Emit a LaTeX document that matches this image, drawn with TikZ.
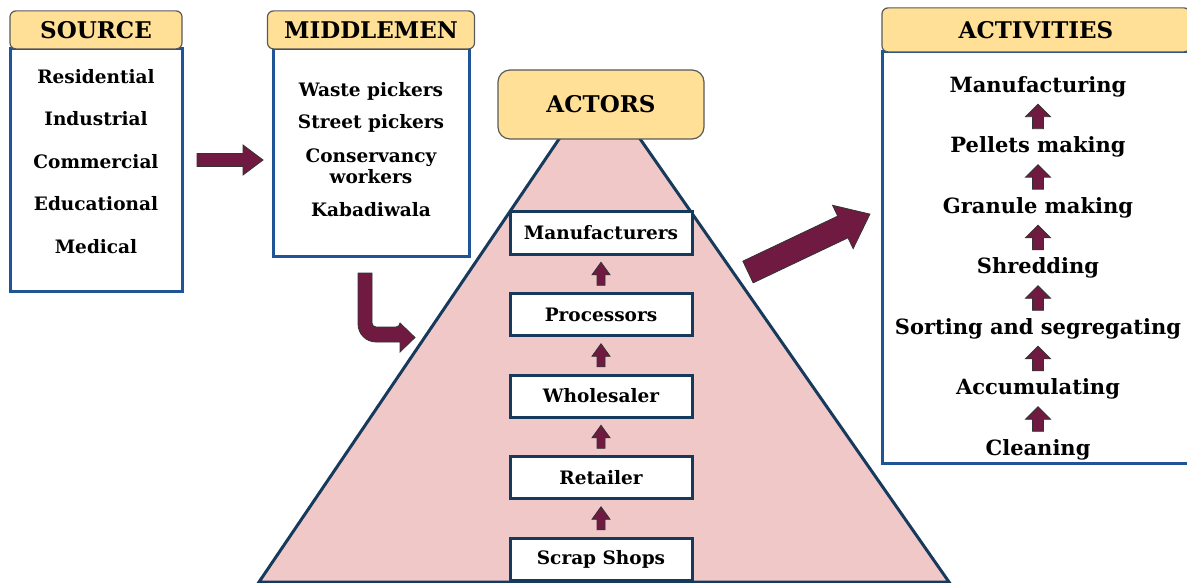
\documentclass[tikz,border=0pt]{standalone}
\usepackage{fontspec}
\setmainfont{DejaVu Serif}
\usetikzlibrary{positioning,calc}
\definecolor{headgold}{RGB}{255,224,150}
\definecolor{boxblue}{RGB}{31,85,150}
\definecolor{navy}{RGB}{22,58,92}
\definecolor{pyrpink}{RGB}{240,200,200}
\definecolor{wine}{RGB}{112,26,66}
\begin{document}
\begin{tikzpicture}[
  x=1pt, y=1pt,
  head/.style={draw=black!65, line width=1.2pt, fill=headgold, rounded corners=6pt,
    inner sep=0pt, font=\fontsize{23}{26}\selectfont\bfseries},
  listbox/.style={draw=boxblue, line width=3pt, fill=white, inner sep=0pt},
  item/.style={align=center, inner sep=1pt, font=\fontsize{18.5}{21}\selectfont\bfseries},
  stepitem/.style={inner sep=1pt, font=\fontsize{21}{24}\selectfont\bfseries},
  actorbox/.style={draw=navy, line width=3pt, fill=white, minimum width=182pt,
    minimum height=42pt, inner sep=0pt, font=\fontsize{18.5}{21}\selectfont\bfseries},
  arrowfill/.style={fill=wine, draw=black!80, line width=0.8pt},
  uparr/.pic={\draw[arrowfill] (-4,-11.5) -- (4,-11.5) -- (4,-1) -- (9,-1) -- (0,11.5) -- (-9,-1) -- (-4,-1) -- cycle;},
  bigup/.pic={\draw[arrowfill] (-5.5,-12) -- (5.5,-12) -- (5.5,0) -- (12.5,0) -- (0,12.5) -- (-12.5,0) -- (-5.5,0) -- cycle;},
  rightarr/.pic={\draw[arrowfill] (0,-6.5) -- (46,-6.5) -- (46,-15) -- (66,0) -- (46,15) -- (46,6.5) -- (0,6.5) -- cycle;},
  diagarr/.pic={\draw[arrowfill] (0,-12) -- (105,-12) -- (105,-24) -- (135,0) -- (105,24) -- (105,12) -- (0,12) -- cycle;}
]
\useasboundingbox (0,0) rectangle (1187,-583);

% source
\node[listbox, minimum width=172pt, minimum height=242pt] (srcbox) at (96,-170) {};
\node[head, minimum width=172pt, minimum height=38pt, anchor=south] (srchead) at ([yshift=-2pt]srcbox.north) {SOURCE};
\foreach \t [count=\i] in {Residential,Industrial,Commercial,Educational,Medical}
  \node[item] (src\i) at (96,{-76.5-42.5*(\i-1)}) {\t};

% middlemen
\node[listbox, minimum width=196pt, minimum height=207pt] (midbox) at (371,-152.5) {};
\node[head, minimum width=207pt, minimum height=38pt, anchor=south] (midhead) at ([yshift=-2pt]midbox.north) {MIDDLEMEN};
\node[item] (mid1) at (371,-91.5) {Waste pickers};
\node[item] (mid2) at (371,-123.5) {Street pickers};
\node[item] (mid3) at (371,-166) {Conservancy\\workers};
\node[item] (mid4) at (371,-209.5) {Kabadiwala};

\pic at (197,-160) {rightarr};
\draw[arrowfill] (358,-273) -- (372,-273) [rounded corners=4pt] -- (372,-327) -- (400,-327) [sharp corners] -- (400,-323)
  -- (415,-337.5) -- (400,-352) -- (400,-342) [rounded corners=18pt] -- (358,-342) -- (358,-300) [sharp corners] -- cycle;

% actors
\fill[pyrpink, draw=navy, line width=3pt, line join=miter] (599,-80) -- (949,-582) -- (259,-582) -- cycle;
\node[head, rounded corners=12pt, minimum width=206pt, minimum height=69pt] (actors) at (601,-104.5) {ACTORS};
\node[actorbox] (scrap) at (601,-559) {Scrap Shops};
\node[actorbox, above=36.5pt of scrap] (retail) {Retailer};
\node[actorbox, above=36.5pt of retail] (whole) {Wholesaler};
\node[actorbox, above=36.5pt of whole] (proc) {Processors};
\node[actorbox, above=36.5pt of proc] (manuf) {Manufacturers};
\pic at ($(scrap.north)!0.5!(retail.south)$) {uparr};
\pic at ($(retail.north)!0.5!(whole.south)$) {uparr};
\pic at ($(whole.north)!0.5!(proc.south)$) {uparr};
\pic at ($(proc.north)!0.5!(manuf.south)$) {uparr};

\pic[rotate=25.4] at (748,-272) {diagarr};

% activities
\node[listbox, minimum width=308pt, minimum height=411pt] (actbox) at (1036,-257.5) {};
\node[head, minimum width=308pt, minimum height=44pt, anchor=south] (acthead) at ([yshift=-2pt]actbox.north) {ACTIVITIES};
\foreach \t [count=\i] in {Manufacturing,Pellets making,Granule making,Shredding,Sorting and segregating,Accumulating,Cleaning}
  \node[stepitem] (act\i) at (1038,{-86.5-60.5*(\i-1)}) {\t};
\foreach \i [evaluate=\i as \j using int(\i+1)] in {1,...,6}
  \pic at ($(act\i)!0.5!(act\j)$) {bigup};
\end{tikzpicture}
\end{document}
